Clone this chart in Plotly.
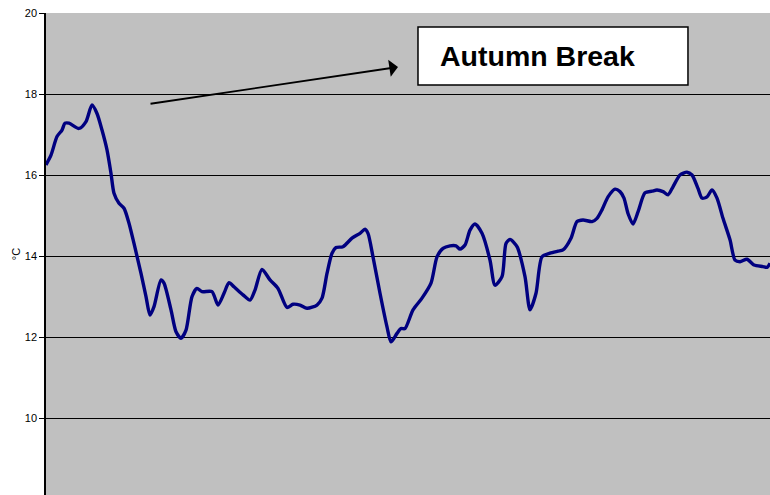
import plotly.graph_objects as go

# time position along the record (arbitrary units) and temperature (°C)
time = [0, 5, 11, 16, 19, 23, 33, 40, 46, 51, 56, 61, 65, 68, 73, 78, 83, 88, 95, 100,
        104, 108, 115, 118, 125, 130, 135, 140, 146, 151, 156, 166, 172, 178, 183,
        188, 197, 204, 209, 216, 224, 232, 241, 247, 254, 261, 271, 276, 281, 286,
        290, 297, 306, 314, 319, 322, 327, 334, 341, 345, 351, 355, 359, 367, 376,
        385, 391, 397, 404, 410, 414, 419, 424, 429, 436, 444, 449, 456, 460, 464,
        471, 479, 484, 490, 496, 504, 512, 517, 525, 531, 537, 546, 551, 556, 562,
        569, 574, 578, 582, 587, 592, 599, 606, 611, 617, 622, 627, 634, 641, 646,
        652, 656, 661, 666, 671, 677, 684, 689, 694, 701, 708, 717, 721, 724]
temp = [16.25, 16.49, 16.95, 17.11, 17.28, 17.28, 17.15, 17.32, 17.73, 17.52,
        17.11, 16.62, 16.04, 15.55, 15.30, 15.18, 14.81, 14.31, 13.57, 13.00,
        12.54, 12.75, 13.41, 13.33, 12.67, 12.13, 11.97, 12.17, 13.00, 13.20,
        13.12, 13.12, 12.79, 13.08, 13.34, 13.24, 13.04, 12.91, 13.16, 13.67,
        13.41, 13.20, 12.73, 12.81, 12.79, 12.71, 12.79, 12.96, 13.57, 14.07,
        14.21, 14.23, 14.44, 14.56, 14.66, 14.56, 13.98, 13.08, 12.25, 11.88,
        12.09, 12.21, 12.21, 12.67, 12.96, 13.33, 13.98, 14.19, 14.25, 14.25,
        14.17, 14.27, 14.64, 14.79, 14.56, 13.90, 13.28, 13.49, 14.31, 14.41,
        14.23, 13.49, 12.67, 13.08, 13.98, 14.07, 14.12, 14.15, 14.44, 14.85,
        14.89, 14.85, 14.93, 15.14, 15.46, 15.65, 15.59, 15.43, 15.05, 14.79,
        15.09, 15.56, 15.60, 15.63, 15.59, 15.51, 15.71, 16.00, 16.07, 16.00,
        15.67, 15.43, 15.46, 15.63, 15.43, 14.93, 14.40, 13.90, 13.86, 13.92,
        13.78, 13.74, 13.72, 13.82, 14.23]
y_ticks = [10, 12, 14, 16, 18, 20]
note = "Autumn Break"

fig = go.Figure()
fig.add_trace(go.Scatter(
    x=time, y=temp, mode="lines",
    line=dict(color="#000080", width=3.4, shape="spline", smoothing=0.7),
    hoverinfo="skip", showlegend=False,
))

fig.update_layout(
    width=770, height=495,
    margin=dict(l=46, r=0, t=13, b=0, autoexpand=False),
    paper_bgcolor="white",
    plot_bgcolor="#C0C0C0",
    font=dict(family="Arial, Liberation Sans, sans-serif", color="black", size=11),
    xaxis=dict(range=[0, 724], showgrid=False, zeroline=False, showline=False,
               showticklabels=False, ticks=""),
    yaxis=dict(range=[8.1, 20], tickvals=y_ticks, ticktext=[str(v) for v in y_ticks],
               showgrid=True, gridcolor="black", gridwidth=1,
               zeroline=False, showline=True, linecolor="black", linewidth=1.5,
               ticks="outside", ticklen=5, tickcolor="black", tickwidth=1,
               tickfont=dict(size=11, color="black"), automargin=False,
               title=dict(text="°C", font=dict(size=11, color="black"), standoff=2)),
    shapes=[dict(type="rect", xref="paper", yref="paper",
                 x0=0.5138, x1=0.8867, y0=0.8506, y1=0.971,
                 fillcolor="white", line=dict(color="black", width=1.5))],
    annotations=[
        dict(text="<b>" + note + "</b>", xref="paper", yref="paper",
             x=0.542, y=0.9108, xanchor="left", yanchor="middle",
             showarrow=False, font=dict(size=28.5, color="black")),
        dict(text="", xref="paper", yref="paper", x=0.4862, y=0.888,
             showarrow=True, arrowhead=1, arrowsize=1.6, arrowwidth=1.8,
             arrowcolor="black", ax=-249, ay=37, standoff=0),
    ],
)

fig.write_html(
    "out.html",
    config={"displayModeBar": False},
    post_script="document.body.style.margin='0';document.body.style.overflow='hidden';",
)
